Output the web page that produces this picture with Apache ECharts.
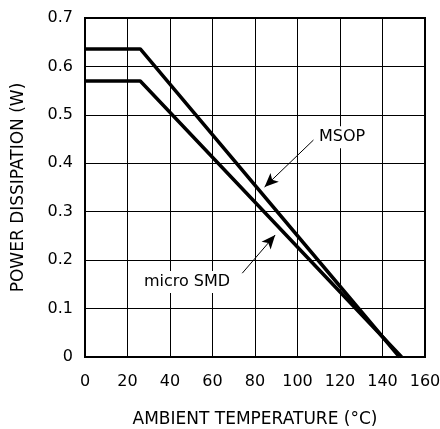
<!DOCTYPE html>
<html>
<head>
<meta charset="utf-8">
<script src="https://cdn.jsdelivr.net/npm/echarts@6/dist/echarts.min.js"></script>
<style>html,body{margin:0;padding:0;background:#fff;}#c{width:440px;height:429px;}</style>
</head>
<body>
<div id="c"></div>
<script>
// Data
const msopX = [0, 26, 148];
const msopY = [0.636, 0.636, 0];
const smdX = [0, 26, 149];
const smdY = [0.570, 0.570, 0];
const xTicks = [0, 20, 40, 60, 80, 100, 120, 140, 160];
const yTicks = [0, 0.1, 0.2, 0.3, 0.4, 0.5, 0.6, 0.7];
const msopLabel = {text: 'MSOP', x: 121, y: 0.454};
const msopArrow = {from: [107.5, 0.448], to: [84.5, 0.351]};
const smdLabel = {text: 'micro SMD', x: 48, y: 0.155};
const smdArrow = {from: [74, 0.173], to: [89.5, 0.252]};

const FONT = 'DejaVu Sans';
const chart = echarts.init(document.getElementById('c'), null, {renderer: 'canvas'});
const pts = (xs, ys) => xs.map((x, i) => [x, ys[i]]);
const lineStyle = {color: '#000', width: 3.5};

function annot(lbl, arrow) {
  return {
    type: 'scatter', data: [[lbl.x, lbl.y]], symbolSize: 0, silent: true, z: 5,
    itemStyle: {opacity: 1, color: '#000'},
    label: {show: true, position: 'inside', formatter: lbl.text, color: '#000',
      fontFamily: FONT, fontSize: 16, backgroundColor: '#fff', padding: [3, 4]},
    markLine: {silent: true, symbol: ['none', 'arrow'], symbolSize: [9, 14],
      lineStyle: {color: '#000', width: 1, type: 'solid', opacity: 1}, label: {show: false},
      data: [[{coord: arrow.from}, {coord: arrow.to}]]}
  };
}

chart.setOption({
  animation: false,
  backgroundColor: '#fff',
  grid: {left: 85, right: 15, top: 18, bottom: 72, containLabel: false, outerBoundsMode: 'none',
    show: true, borderColor: '#000', borderWidth: 2, backgroundColor: 'transparent'},
  xAxis: {
    type: 'value', min: xTicks[0], max: xTicks[xTicks.length - 1], interval: 20,
    axisLine: {show: false}, axisTick: {show: false},
    axisLabel: {color: '#000', fontFamily: FONT, fontSize: 16, margin: 17},
    splitLine: {show: true, lineStyle: {color: '#000', width: 1}},
    name: 'AMBIENT TEMPERATURE (°C)', nameLocation: 'middle', nameGap: 54,
    nameTextStyle: {color: '#000', fontFamily: FONT, fontSize: 17}
  },
  yAxis: {
    type: 'value', min: yTicks[0], max: yTicks[yTicks.length - 1], interval: 0.1,
    axisLine: {show: false}, axisTick: {show: false},
    axisLabel: {color: '#000', fontFamily: FONT, fontSize: 16, margin: 12,
      formatter: v => v === 0 ? '0' : v.toFixed(1)},
    splitLine: {show: true, lineStyle: {color: '#000', width: 1}},
    name: 'POWER DISSIPATION (W)', nameLocation: 'middle', nameGap: 58,
    nameTextStyle: {color: '#000', fontFamily: FONT, fontSize: 17}
  },
  series: [
    {type: 'line', name: 'MSOP', data: pts(msopX, msopY), symbol: 'none', lineStyle, z: 3},
    {type: 'line', name: 'micro SMD', data: pts(smdX, smdY), symbol: 'none', lineStyle, z: 3},
    annot(msopLabel, msopArrow),
    annot(smdLabel, smdArrow)
  ]
});
</script>
</body>
</html>
